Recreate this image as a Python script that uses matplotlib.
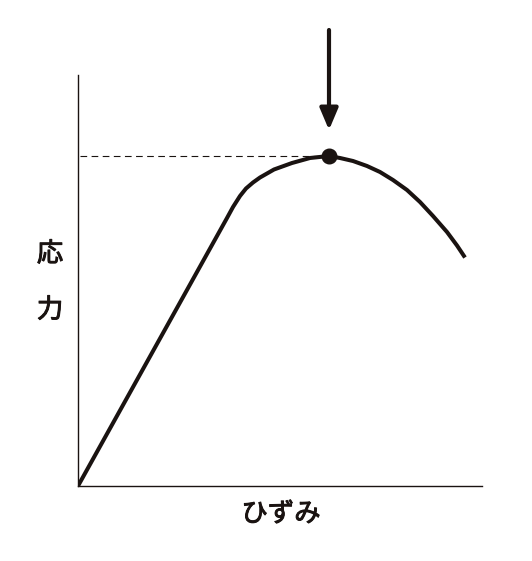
import matplotlib
matplotlib.use("Agg")
import matplotlib.pyplot as plt
import matplotlib.patheffects as pe

plt.rcParams['font.family'] = ['Noto Sans CJK JP', 'DejaVu Sans']

# stress-strain curve (arbitrary units)
strain = [0, 149, 155, 162, 168, 175, 182, 196, 214, 232, 251, 262, 275, 289, 302, 315, 329, 342, 355, 369, 379, 387]
stress = [0, 268, 279, 290, 297.5, 303.5, 308.5, 316.5, 323, 328, 330, 328, 325, 320, 314, 306, 296, 284, 270, 254, 240.5, 228.5]
peak_x, peak_y = 251, 330
x_max, y_max = 404, 411
x_label = "ひずみ"
y_label = ["応", "力"]

W, H = 532, 561
fig = plt.figure(figsize=(W / 100, H / 100), dpi=100)
ax = fig.add_axes([78 / W, (H - 486) / H, 404 / W, 411 / H])
ax.set_xlim(0, x_max)
ax.set_ylim(0, y_max)
for s in ['top', 'right']:
    ax.spines[s].set_visible(False)
col = '#1a1311'
for s in ['left', 'bottom']:
    ax.spines[s].set_linewidth(1.0)
    ax.spines[s].set_color(col)
ax.set_xticks([])
ax.set_yticks([])

ax.plot(strain, stress, color=col, lw=2.9, solid_capstyle='butt', solid_joinstyle='round')
ax.plot([2, peak_x], [peak_y, peak_y], color=col, lw=0.8, ls=(0, (6, 4)))
ax.plot([peak_x], [peak_y], 'o', color=col, ms=10.5)

ax.annotate('', xy=(peak_x, 356), xytext=(peak_x, 456),
            arrowprops=dict(arrowstyle='-|>,head_length=1.3,head_width=0.55',
                            color=col, lw=3.0, shrinkA=0, shrinkB=0),
            annotation_clip=False)

fx = [pe.withStroke(linewidth=0.7, foreground=col)]
fig.text(281 / W, 1 - 514 / H, x_label, ha='center', va='center', fontsize=19,
         color=col, path_effects=fx)
fig.text(50 / W, 1 - 254 / H, y_label[0], ha='center', va='center', fontsize=19,
         color=col, path_effects=fx)
fig.text(50 / W, 1 - 310 / H, y_label[1], ha='center', va='center', fontsize=19,
         color=col, path_effects=fx)

fig.savefig('out.png', dpi=100, facecolor='white')
